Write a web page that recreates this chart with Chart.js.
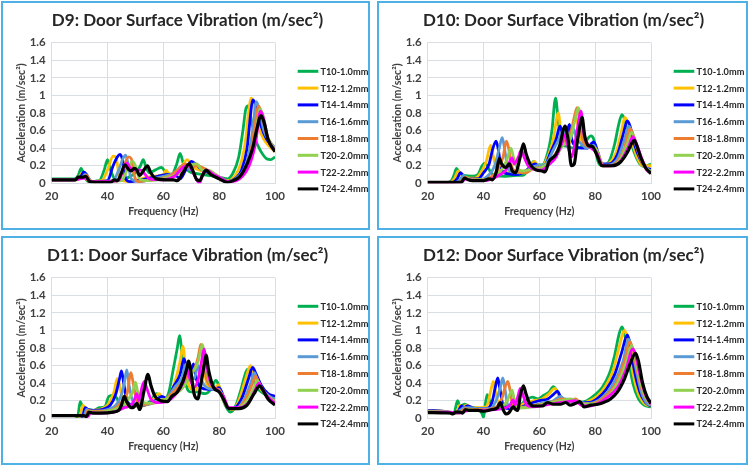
<!DOCTYPE html>
<html>
<head>
<meta charset="utf-8">
<script src="https://cdn.jsdelivr.net/npm/chart.js@4.4.0/dist/chart.umd.min.js"></script>
<style>
  html, body { margin: 0; padding: 0; background: #fff; }
  body { width: 750px; height: 467px; position: relative; overflow: hidden; }
  .panel { position: absolute; box-sizing: border-box; border: 2px solid #4fb0e6; background: #fff; }
  .panel canvas { display: block; }
</style>
</head>
<body>
<div class="panel" style="left:1px;top:1px;width:369px;height:229px"><canvas id="c9" width="365" height="225"></canvas></div>
<div class="panel" style="left:377px;top:1px;width:371px;height:229px"><canvas id="c10" width="367" height="225"></canvas></div>
<div class="panel" style="left:1px;top:236px;width:369px;height:229px"><canvas id="c11" width="365" height="225"></canvas></div>
<div class="panel" style="left:377px;top:236px;width:371px;height:229px"><canvas id="c12" width="367" height="225"></canvas></div>
<script>
const seriesNames = ["T10-1.0mm", "T12-1.2mm", "T14-1.4mm", "T16-1.6mm", "T18-1.8mm", "T20-2.0mm", "T22-2.2mm", "T24-2.4mm"];
const seriesColors = ["#00b050", "#ffc000", "#0000ff", "#5b9bd5", "#ed7d31", "#92d050", "#ff00ff", "#000000"];
const xTicks = [20, 40, 60, 80, 100];
const yTicks = [0, 0.2, 0.4, 0.6, 0.8, 1, 1.2, 1.4, 1.6];

// D9 [frequency Hz, acceleration]
const d9_T10 = [[20,.05],[28,.05],[29.5,.09],[30.5,.17],[31.5,.1],[33,.02],[37,.03],[38.8,.15],[40,.27],[41,.16],[42.5,.05],[44,.03],[47,.06],[50,.12],[51.8,.2],[52.8,.27],[53.8,.18],[55,.12],[57,.15],[59.3,.18],[61,.12],[63,.1],[64.8,.22],[66,.34],[67.2,.22],[69,.14],[72,.11],[76,.09],[80,.07],[83,.05],[85,.12],[87,.3],[88.5,.6],[89.5,.84],[90.3,.88],[91.3,.75],[93,.5],[95,.36],[97,.28],[98.5,.27],[100,.3]];
const d9_T12 = [[20,.04],[28,.04],[30,.08],[31,.12],[32,.08],[33.5,.02],[38,.03],[40,.15],[42,.31],[43,.3],[44,.12],[45.5,.03],[48,.02],[52,.05],[56,.08],[60,.1],[61,.15],[62,.1],[64,.08],[66,.15],[68.5,.27],[70,.2],[73,.15],[76,.12],[80,.07],[83,.03],[86,.1],[88,.25],[89.5,.5],[90.5,.8],[91.5,.97],[92.5,.9],[94,.65],[96,.5],[98,.42],[100,.36]];
const d9_T14 = [[20,.04],[28,.04],[30.5,.08],[31.5,.13],[32.5,.1],[34,.02],[40,.03],[42,.2],[43.5,.3],[44.5,.33],[45.5,.25],[46.5,.05],[48,.02],[52,.04],[58,.08],[62,.1],[64,.1],[66,.05],[68,.15],[70,.25],[71.5,.22],[74,.15],[78,.1],[80,.07],[83,.02],[86,.06],[88,.15],[90,.4],[91.3,.8],[92,.95],[93,.9],[95,.65],[97,.5],[100,.4]];
const d9_T16 = [[20,.04],[28,.04],[31,.07],[32,.1],[33,.07],[34.5,.02],[42,.03],[44,.15],[45.5,.28],[46.5,.32],[47.5,.2],[48.5,.05],[52,.02],[56,.05],[60,.08],[64,.12],[67,.2],[70,.15],[71,.22],[72.5,.2],[75,.15],[80,.07],[83,.02],[87,.08],[90,.25],[92,.6],[93.3,.93],[94.3,.85],[96,.6],[98,.48],[100,.4]];
const d9_T18 = [[20,.04],[28,.04],[31.5,.07],[32.5,.09],[34,.02],[44,.03],[46,.2],[47.5,.3],[48.5,.28],[49.5,.1],[51,.02],[56,.04],[62,.08],[65,.15],[68,.22],[70,.18],[72,.2],[74,.18],[77,.13],[80,.07],[83,.02],[88,.1],[91,.3],[93,.7],[94,.88],[95,.82],[97,.55],[100,.38]];
const d9_T20 = [[20,.04],[28,.04],[32,.07],[34,.02],[45,.03],[47,.15],[49,.25],[50,.2],[51.5,.05],[55,.03],[62,.07],[66,.12],[69,.2],[72,.22],[74,.15],[76,.15],[80,.07],[83,.02],[89,.12],[92,.35],[94,.75],[94.6,.85],[95.6,.78],[97.5,.52],[100,.38]];
const d9_T22 = [[20,.04],[28,.04],[32,.06],[34,.02],[44,.03],[46,.2],[47,.23],[48,.18],[50,.15],[52,.15],[53.5,.1],[55,.05],[60,.04],[64,.08],[67,.18],[69,.2],[71,.1],[73,0],[74,.1],[75.5,.15],[78,.1],[80,.07],[83,.02],[90,.15],[93,.45],[94.8,.82],[95.8,.75],[97.5,.5],[100,.37]];
const d9_T24 = [[20,.04],[28.5,.04],[29.5,.07],[31,.07],[32.3,.08],[33.5,.02],[36,.01],[41,.01],[42.5,.04],[43.5,.03],[45,.12],[46.2,.21],[47.5,.16],[48.5,.14],[49.5,.17],[50.5,.15],[51.5,.09],[53,.15],[54.3,.2],[55.5,.12],[57.5,.05],[61,.04],[63.5,.04],[65,.03],[67,.12],[69.3,.22],[70.5,.15],[72,.04],[73,.03],[74.2,.1],[75.3,.15],[77,.1],[80,.05],[83,.01],[85,.03],[87.5,.08],[90,.22],[92,.4],[93.5,.62],[95,.77],[96.2,.68],[97.5,.5],[100,.36]];

// D10
const d10_T10 = [[20,.01],[27,.01],[28.5,.03],[29.5,.1],[30.3,.17],[31.2,.13],[33,.09],[36,.08],[38,.1],[39.5,.2],[40.5,.23],[41.5,.19],[42.5,.13],[44,.09],[48,.08],[52,.09],[54,.09],[56,.15],[58,.25],[59.5,.21],[61,.21],[63,.35],[64.5,.6],[65.8,.97],[66.8,.7],[68,.45],[70,.42],[72,.4],[74,.4],[76,.45],[78.5,.54],[79.5,.5],[81,.25],[82.5,.2],[85,.25],[87,.45],[88.5,.68],[89.6,.78],[90.6,.72],[92,.55],[94,.35],[96,.22],[97.5,.19],[100,.22]];
const d10_T12 = [[20,.01],[28,.01],[29.5,.05],[31,.14],[32,.1],[34,.06],[37,.06],[39,.12],[41,.25],[42.5,.43],[43.2,.35],[44.5,.18],[46,.14],[50,.12],[54,.13],[56.5,.17],[58.2,.25],[59.5,.2],[61,.2],[63,.3],[65,.5],[66.8,.8],[67.8,.55],[69,.45],[70.5,.45],[72,.62],[72.8,.78],[73.6,.7],[75,.5],[77,.42],[79.5,.45],[81,.3],[82.5,.21],[85,.23],[87.5,.35],[89.5,.6],[90.6,.75],[91.5,.7],[93,.5],[95,.3],[97,.2],[100,.2]];
const d10_T14 = [[20,.01],[29,.01],[30.5,.05],[31.8,.12],[32.8,.08],[34.5,.05],[38,.05],[40,.12],[42,.22],[43.2,.38],[44.5,.48],[45.2,.4],[46.5,.15],[48.5,.11],[52,.1],[55,.14],[58.5,.22],[60,.18],[62,.2],[64,.35],[66,.5],[67.4,.65],[68.5,.55],[69.5,.55],[70.8,.67],[71.6,.5],[73,.42],[75,.4],[77,.4],[79.5,.47],[81,.35],[82.5,.22],[85,.22],[88,.33],[90,.55],[91.5,.71],[92.5,.65],[94,.45],[96,.28],[98,.18],[100,.16]];
const d10_T16 = [[20,.01],[30,.01],[31.5,.04],[32.8,.09],[34,.06],[36,.04],[40,.05],[42,.1],[44,.2],[45.5,.38],[46.7,.52],[47.5,.4],[48.5,.2],[50,.13],[53,.12],[56,.15],[59,.2],[61,.2],[63,.25],[65,.38],[67,.5],[68.5,.6],[69.5,.52],[71,.5],[72.3,.62],[73.2,.52],[75,.45],[77,.4],[79.5,.43],[81,.33],[82.5,.21],[85,.21],[88,.28],[90.5,.5],[92,.65],[93,.6],[94.5,.45],[96.5,.28],[98.5,.17],[100,.14]];
const d10_T18 = [[20,.01],[31,.01],[32.5,.04],[33.5,.07],[35,.05],[40,.04],[43,.08],[45,.15],[47,.3],[48.2,.48],[49,.4],[50,.2],[52,.13],[55,.12],[58,.17],[61,.18],[64,.25],[67,.4],[69,.48],[71,.55],[72.5,.75],[73.5,.86],[74.3,.75],[75.5,.5],[77.5,.42],[80,.4],[81.5,.3],[82.8,.2],[85,.2],[88,.25],[90.5,.4],[92.5,.62],[93.3,.58],[95,.4],[97,.22],[99,.14],[100,.13]];
const d10_T20 = [[20,.01],[31.5,.01],[33,.04],[34,.06],[36,.04],[42,.04],[45,.1],[47,.18],[48.5,.28],[49.8,.4],[50.7,.3],[52,.18],[54,.14],[57,.16],[60,.17],[63,.22],[66,.32],[69,.45],[71,.5],[73,.75],[74,.86],[75,.72],[76.5,.5],[78.5,.42],[80.5,.38],[82.8,.2],[86,.2],[89,.27],[91.5,.45],[93,.58],[94,.52],[95.5,.38],[97.5,.2],[100,.13]];
const d10_T22 = [[20,.01],[32,.01],[33.5,.05],[35,.04],[40,.03],[43,.05],[46,.1],[48,.15],[49,.22],[50.2,.29],[51,.22],[52.5,.3],[53.5,.38],[54.5,.3],[56,.2],[58,.16],[61,.15],[63,.2],[66,.3],[68,.45],[69.2,.55],[70,.45],[71.5,.3],[73,.5],[74.3,.75],[74.9,.82],[76,.55],[78,.42],[80.5,.35],[82.8,.2],[86,.2],[89,.25],[92,.42],[93.5,.53],[94.8,.45],[96.5,.3],[98.5,.15],[100,.12]];
const d10_T24 = [[20,.01],[32,.01],[33.2,.06],[34.5,.04],[36,.03],[40,.03],[42,.05],[43.2,.04],[44.5,.12],[45.7,.28],[46.5,.22],[48,.18],[49.3,.22],[50.3,.14],[51.5,.12],[53,.28],[54.3,.45],[55.3,.33],[57,.2],[59,.15],[61,.14],[62,.13],[63.5,.25],[66,.33],[67.5,.45],[68.5,.6],[69.2,.65],[70.3,.5],[71.5,.2],[72.5,.22],[73.5,.45],[74.7,.68],[75.3,.75],[76.2,.55],[77.5,.43],[79,.42],[80.5,.33],[82.5,.2],[86,.2],[89,.24],[91.5,.35],[93,.45],[94,.49],[95,.42],[96.5,.28],[98,.18],[100,.11]];

// D11
const d11_T10 = [[20,.03],[28,.03],[29.3,.02],[30.2,.19],[31.2,.12],[33,.1],[35,.09],[37,.12],[39,.13],[40.5,.25],[42,.26],[43.5,.22],[44.5,.14],[47,.13],[50,.14],[53,.15],[55.5,.2],[57.5,.28],[59,.25],[60.5,.22],[62,.3],[63.5,.55],[65,.8],[65.8,.94],[66.8,.7],[68,.4],[70,.3],[72,.3],[75,.28],[77,.33],[78.8,.43],[79.8,.38],[81.5,.2],[83,.1],[84,.07],[86,.15],[88,.35],[89.5,.52],[90.3,.56],[91.5,.5],[93.5,.35],[96,.28],[98,.25],[100,.25]];
const d11_T12 = [[20,.03],[29,.03],[30,.02],[31.2,.15],[32.2,.1],[34,.09],[37,.1],[40,.15],[42.3,.3],[43.5,.45],[44.3,.38],[45.5,.2],[48,.15],[52,.14],[55,.17],[58.5,.28],[60,.22],[62,.25],[64,.4],[66,.65],[67,.82],[68,.55],[69.5,.35],[71.5,.32],[73.5,.55],[74.2,.6],[75.5,.4],[77.5,.33],[79.8,.38],[81,.25],[83,.12],[85,.1],[87,.2],[89.5,.45],[91.2,.6],[92.3,.52],[94.5,.35],[97,.27],[100,.23]];
const d11_T14 = [[20,.03],[30,.03],[31,.02],[32,.12],[33,.1],[35,.09],[38,.1],[41,.15],[43,.28],[44.3,.45],[45,.54],[45.8,.4],[47,.2],[49,.15],[53,.15],[57,.2],[59.5,.25],[61.5,.22],[63.5,.35],[66,.5],[67.4,.68],[68.5,.55],[69.5,.5],[70.8,.62],[71.8,.45],[73.5,.35],[76,.33],[78,.33],[80,.35],[81.5,.25],[83,.12],[85,.11],[88,.22],[90.5,.45],[92,.58],[93,.52],[95,.38],[97.5,.28],[100,.25]];
const d11_T16 = [[20,.03],[30.5,.03],[31.5,.02],[32.5,.1],[34,.08],[36,.08],[40,.1],[43,.15],[45,.27],[46,.4],[46.9,.55],[47.7,.38],[49,.2],[51,.15],[55,.16],[58,.2],[61,.22],[64,.35],[66.5,.45],[68.3,.62],[69.5,.5],[71,.45],[72.5,.6],[73.5,.45],[75.5,.35],[78,.33],[80,.33],[81.5,.22],[83.5,.11],[86,.11],[89,.22],[91.5,.42],[92.6,.52],[93.5,.45],[95.5,.33],[98,.25],[100,.22]];
const d11_T18 = [[20,.03],[31,.03],[32,.02],[33,.09],[34.5,.08],[38,.08],[42,.1],[45,.18],[47,.28],[48.4,.52],[49.2,.4],[50.5,.2],[53,.16],[56,.17],[60,.2],[63,.28],[66,.38],[69,.48],[71,.55],[72.5,.7],[73.4,.84],[74.2,.7],[75.5,.45],[78,.35],[80,.32],[81.5,.22],[83.5,.11],[86,.11],[89.5,.22],[92,.4],[93,.48],[94,.42],[96,.3],[98.5,.22],[100,.2]];
const d11_T20 = [[20,.03],[31.5,.03],[32.5,.02],[33.5,.08],[35,.07],[40,.08],[44,.12],[47,.2],[49,.3],[50,.41],[50.8,.3],[52,.2],[55,.17],[59,.2],[63,.25],[67,.35],[70,.5],[72.5,.65],[73.5,.8],[74,.84],[75,.65],[76.5,.42],[79,.33],[81,.28],[83.5,.12],[86,.11],[90,.2],[92.5,.35],[93.6,.43],[94.5,.38],[96.5,.28],[100,.19]];
const d11_T22 = [[20,.03],[32,.03],[33,.02],[34,.07],[36,.06],[42,.07],[46,.12],[48.5,.15],[49.5,.2],[50.5,.28],[51.2,.2],[52.3,.35],[53.2,.42],[54,.35],[55.5,.22],[58,.18],[61,.19],[64,.26],[67,.4],[68.5,.55],[69.5,.45],[71,.35],[72.5,.45],[74,.7],[74.6,.79],[75.5,.6],[77,.4],[79.5,.32],[81.5,.25],[83.5,.12],[87,.12],[91,.2],[93,.33],[94.2,.4],[95,.36],[97,.26],[100,.17]];
const d11_T24 = [[20,.03],[31.5,.03],[32.5,.02],[33.3,.07],[34.5,.06],[38,.06],[42,.07],[44,.09],[45,.15],[46,.25],[47,.18],[48.5,.12],[49.5,.13],[50.5,.17],[51.5,.1],[53,.3],[54.5,.5],[55.5,.38],[57,.25],[59,.2],[61.5,.19],[63,.25],[65,.3],[67,.42],[68.5,.58],[69,.65],[70,.5],[71,.28],[72.3,.22],[73.5,.4],[74.7,.62],[75.3,.72],[76.2,.55],[78,.35],[80,.3],[81.5,.22],[83.5,.11],[87,.11],[90,.15],[92.5,.28],[94.5,.37],[95.5,.33],[97.5,.22],[100,.15]];

// D12
const d12_T10 = [[20,.09],[25,.08],[28,.06],[29.5,.07],[30.7,.2],[31.5,.14],[33.3,.16],[35,.13],[37,.12],[38.5,.1],[39.5,.05],[40,.01],[40.6,.15],[41.3,.27],[42.2,.2],[43.5,.12],[46,.13],[50,.14],[53,.15],[55,.2],[57.5,.24],[59.5,.22],[61.5,.26],[63.5,.3],[65,.36],[66.5,.3],[68.5,.2],[71,.2],[74,.18],[77,.2],[80,.27],[82.5,.35],[85,.5],[87,.72],[88.5,.95],[89.6,1.04],[90.6,.95],[91.8,.7],[93.5,.4],[95.5,.22],[97.5,.15],[100,.13]];
const d12_T12 = [[20,.09],[26,.08],[29,.06],[30.5,.08],[31.5,.15],[32.5,.12],[33.8,.15],[36,.12],[39,.12],[41,.13],[42.5,.3],[43.5,.42],[44.3,.3],[45.5,.15],[48,.12],[52,.13],[55,.17],[58,.2],[61,.22],[63.5,.28],[65.5,.34],[67,.26],[69,.2],[72,.2],[75,.17],[78,.2],[81,.26],[84,.38],[86.5,.55],[88.5,.8],[90.6,1.0],[91.5,.9],[93,.6],[95,.32],[97.5,.17],[100,.14]];
const d12_T14 = [[20,.09],[26,.08],[29.5,.06],[31,.08],[32,.14],[33,.12],[34.2,.14],[37,.11],[41,.11],[43,.18],[44.2,.35],[45.1,.46],[45.8,.35],[47,.15],[49,.11],[53,.12],[56,.16],[60,.2],[63,.22],[65,.27],[66.5,.31],[67.5,.25],[69.5,.2],[72,.2],[75,.18],[78,.18],[81,.23],[84,.33],[87,.5],[89.5,.75],[91.5,.95],[92.5,.85],[94,.55],[96,.3],[98,.18],[100,.14]];
const d12_T16 = [[20,.08],[27,.07],[30,.06],[32,.1],[33,.12],[35,.12],[38,.11],[42,.11],[44.5,.2],[46,.35],[46.9,.46],[47.6,.35],[48.7,.15],[51,.11],[55,.13],[58,.15],[62,.18],[65,.2],[67.5,.25],[69,.22],[72,.21],[75,.18],[78,.17],[81,.2],[84,.28],[87,.42],[90,.65],[92,.9],[93,.82],[94.5,.58],[96.5,.3],[98.5,.17],[100,.15]];
const d12_T18 = [[20,.08],[27,.07],[30.5,.06],[32.5,.09],[33.5,.11],[36,.1],[40,.1],[44,.12],[46.5,.22],[48,.38],[48.7,.42],[49.5,.32],[50.5,.15],[53,.12],[57,.14],[61,.16],[65,.19],[68,.22],[71,.21],[73,.22],[75,.17],[78,.16],[81,.19],[84,.26],[87.5,.4],[90.5,.65],[92.5,.87],[93.3,.8],[95,.55],[97,.3],[100,.15]];
const d12_T20 = [[20,.08],[28,.07],[31,.06],[33,.08],[34,.1],[37,.09],[42,.1],[46,.12],[48.5,.2],[49.5,.28],[50.2,.32],[51,.22],[52.5,.12],[55,.12],[60,.15],[64,.18],[68,.2],[71,.22],[73.5,.2],[76,.16],[79,.16],[82,.19],[85,.26],[88,.4],[91,.62],[93,.83],[94,.75],[95.5,.52],[97.5,.28],[100,.15]];
const d12_T22 = [[20,.07],[28,.07],[31.5,.06],[33.5,.08],[34.5,.09],[38,.09],[44,.1],[48,.12],[49.5,.15],[50.6,.21],[51.3,.15],[52.3,.25],[53.2,.34],[54,.28],[55.5,.15],[58,.13],[62,.15],[66,.17],[70,.19],[73,.2],[75,.15],[78,.14],[81,.17],[84,.23],[88,.35],[91,.55],[93.5,.79],[94.5,.72],[96,.5],[98,.27],[100,.16]];
const d12_T24 = [[20,.065],[28,.06],[29,.05],[30,.07],[31.5,.07],[32.5,.06],[33.5,.1],[35,.09],[38,.09],[40,.08],[43,.1],[45,.12],[46,.18],[47,.1],[48,.05],[49,.06],[50.7,.13],[51.5,.1],[52.2,.09],[53.3,.28],[54.3,.37],[55.2,.28],[56.5,.17],[58,.14],[61,.14],[63,.18],[65,.16],[67.5,.16],[69.5,.18],[71,.15],[73,.17],[74.5,.19],[76,.13],[78.5,.15],[81,.16],[83,.18],[85.5,.22],[88,.3],[90.5,.45],[92.5,.62],[94.5,.74],[95.5,.65],[97,.4],[98.5,.25],[100,.17]];

const panels = [
    { id: "c9",  title: "D9: Door Surface Vibration (m/sec²)",  series: [d9_T10, d9_T12, d9_T14, d9_T16, d9_T18, d9_T20, d9_T22, d9_T24] },
    { id: "c10", title: "D10: Door Surface Vibration (m/sec²)", series: [d10_T10, d10_T12, d10_T14, d10_T16, d10_T18, d10_T20, d10_T22, d10_T24] },
    { id: "c11", title: "D11: Door Surface Vibration (m/sec²)", series: [d11_T10, d11_T12, d11_T14, d11_T16, d11_T18, d11_T20, d11_T22, d11_T24] },
    { id: "c12", title: "D12: Door Surface Vibration (m/sec²)", series: [d12_T10, d12_T12, d12_T14, d12_T16, d12_T18, d12_T20, d12_T22, d12_T24] }
];

const FONT = "Lato, 'Liberation Sans', sans-serif";
const GRID = "#d9dde4";
const TEXT = "#404040";

// title + right-hand legend, drawn straight on the canvas
function decor(title) {
    return {
        id: "decor",
        afterDraw(chart) {
            const ctx = chart.ctx;
            ctx.save();
            ctx.fillStyle = "#262626";
            ctx.font = "bold 17px " + FONT;
            ctx.textAlign = "center";
            ctx.textBaseline = "middle";
            ctx.fillText(title, 184.5, 18);

            ctx.font = "bold 9.2px " + FONT;
            ctx.textAlign = "left";
            chart.data.datasets.forEach((ds, i) => {
                const y = 68.3 + i * 16.8;
                ctx.strokeStyle = ds.borderColor;
                ctx.lineWidth = 3;
                ctx.beginPath();
                ctx.moveTo(294.7, y);
                ctx.lineTo(315.3, y);
                ctx.stroke();
                ctx.fillStyle = "#262626";
                ctx.fillText(ds.label, 317.5, y + 0.5);
            });
            ctx.restore();
        }
    };
}

function renderPanel(p) {
    const el = document.getElementById(p.id);
    const W = el.width;
    new Chart(el, {
        type: "line",
        data: {
            datasets: p.series.map((pts, i) => ({
                label: seriesNames[i],
                data: pts,
                borderColor: seriesColors[i],
                borderWidth: i === 7 ? 3.2 : 2.8,
                pointRadius: 0,
                fill: false,
                cubicInterpolationMode: "monotone",
                order: 7 - i
            }))
        },
        options: {
            responsive: false,
            animation: false,
            devicePixelRatio: 1,
            layout: { padding: { left: 0, top: 39.7, right: W - 272, bottom: 0 } },
            plugins: { legend: { display: false }, tooltip: { enabled: false }, title: { display: false } },
            scales: {
                x: {
                    type: "linear",
                    min: xTicks[0],
                    max: xTicks[xTicks.length - 1],
                    afterBuildTicks: s => { s.ticks = xTicks.map(v => ({ value: v })); },
                    afterFit: s => { s.height = 225 - 180.3; },
                    ticks: { color: TEXT, font: { family: FONT, size: 11.5, weight: "bold" }, padding: 6, maxRotation: 0 },
                    grid: { color: GRID, drawTicks: false },
                    border: { color: GRID },
                    title: { display: true, text: "Frequency (Hz)", color: TEXT, font: { family: FONT, size: 10.5, weight: "bold" }, padding: { top: 0, bottom: 10 } }
                },
                y: {
                    min: 0,
                    max: 1.6,
                    afterBuildTicks: s => { s.ticks = yTicks.map(v => ({ value: v })); },
                    afterFit: s => { s.width = 48.7; },
                    ticks: { color: TEXT, font: { family: FONT, size: 11.5, weight: "bold" }, padding: 6, callback: v => String(+v.toFixed(1)) },
                    grid: { color: GRID, drawTicks: false },
                    border: { color: GRID },
                    title: { display: true, text: "Acceleration (m/sec²)", color: TEXT, font: { family: FONT, size: 10.5, weight: "bold" }, padding: { top: 12.4, bottom: 0 } }
                }
            }
        },
        plugins: [decor(p.title)]
    });
}

panels.forEach(renderPanel);
</script>
</body>
</html>
